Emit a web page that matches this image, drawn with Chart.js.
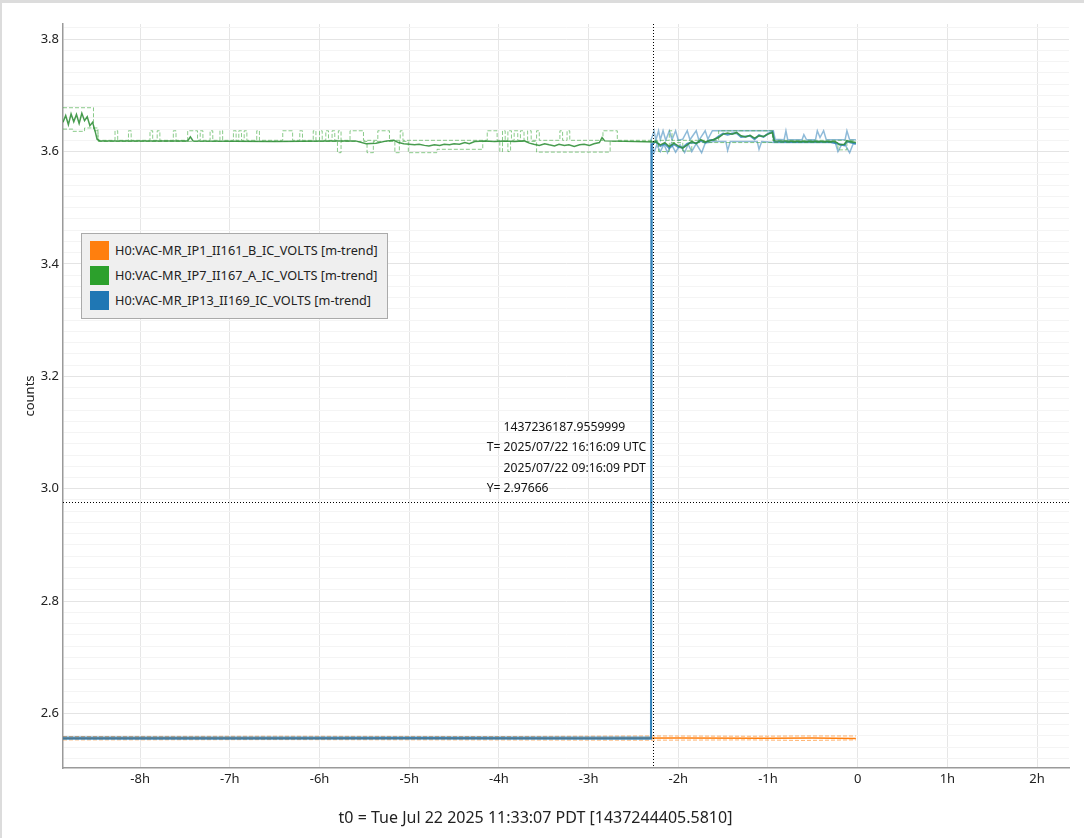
<!DOCTYPE html>
<html>
<head>
<meta charset="utf-8">
<script src="https://cdn.jsdelivr.net/npm/chart.js@4/dist/chart.umd.min.js"></script>
<style>
  html, body { margin: 0; padding: 0; background: #dcdcdc; width: 1084px; height: 838px; overflow: hidden; }
  #wrap { position: absolute; left: 2px; top: 3px; width: 1082px; height: 835px; background: #fff; }
  #legend { position: absolute; left: 79px; top: 230px; width: 305px; height: 84px; background: #efefef;
            border: 1px solid #aaa; font: 12.7px "Noto Sans", sans-serif; color: #222; }
  #legend .row { position: absolute; left: 8px; height: 19px; line-height: 19px; white-space: nowrap; }
  #legend .sw { display: inline-block; width: 19px; height: 19px; vertical-align: top; margin-right: 6px; }
</style>
</head>
<body>
<div id="wrap">
  <canvas id="chart" width="1082" height="835"></canvas>
  <div id="legend"></div>
</div>
<script>
// 時刻は t0 からの相対時間 [h]
const t0 = 1437244405.5810;
const titleText = 't0 = Tue Jul 22 2025 11:33:07 PDT [1437244405.5810]';
const xMin = -8.86, xMax = 2.356;
const yMin = 2.503, yMax = 3.827;
const xTicks = [-8, -7, -6, -5, -4, -3, -2, -1, 0, 1, 2];
const yTicks = [2.6, 2.8, 3.0, 3.2, 3.4, 3.6, 3.8];

const labels = [
  'H0:VAC-MR_IP1_II161_B_IC_VOLTS [m-trend]',
  'H0:VAC-MR_IP7_II167_A_IC_VOLTS [m-trend]',
  'H0:VAC-MR_IP13_II169_IC_VOLTS [m-trend]'
];
const colors = ['#ff7f0e', '#2ca02c', '#1f77b4'];

// カーソル位置
const cursorGps = 1437236187.9559999;
const cursorY = 2.97666;
const cursorLines = ['1437236187.9559999', '2025/07/22 16:16:09 UTC', '2025/07/22 09:16:09 PDT', '2.97666'];

// orange
const orangeMean = [[-8.86,2.556],[-7.5,2.5562],[-6.0,2.5558],[-4.5,2.5561],[-3.0,2.5559],[-2.0,2.5563],[-1.0,2.5558],[-0.5,2.5562],[-0.02,2.5557]];
const orangeMax = [[-8.86,2.559],[-6.5,2.5595],[-4.0,2.559],[-2.28,2.560],[-1.2,2.5595],[-0.6,2.560],[-0.02,2.560]];
const orangeMin = [[-8.86,2.553],[-6.5,2.5535],[-4.0,2.553],[-2.28,2.5525],[-1.2,2.553],[-0.6,2.552],[-0.02,2.553]];

// green
const greenMean = [
  [-8.86,3.652],[-8.83,3.664],[-8.80,3.648],[-8.77,3.667],[-8.74,3.653],[-8.71,3.666],[-8.68,3.650],
  [-8.65,3.668],[-8.62,3.655],[-8.59,3.662],[-8.56,3.646],[-8.53,3.652],[-8.50,3.635],[-8.48,3.622],
  [-8.45,3.619],[-7.47,3.619],[-7.44,3.626],[-7.41,3.619],[-6.5,3.618],[-5.9,3.619],[-5.60,3.619],
  [-5.48,3.614],[-5.37,3.615],[-5.25,3.619],[-5.17,3.620],[-5.12,3.616],[-5.06,3.614],[-5.00,3.613],
  [-4.94,3.612],[-4.89,3.613],[-4.83,3.611],[-4.78,3.610],[-4.72,3.612],[-4.66,3.611],[-4.61,3.613],
  [-4.55,3.612],[-4.50,3.614],[-4.44,3.613],[-4.38,3.616],[-4.33,3.614],[-4.27,3.618],[-4.16,3.619],
  [-4.05,3.618],[-3.94,3.619],[-3.83,3.618],[-3.72,3.619],[-3.66,3.615],[-3.61,3.613],[-3.55,3.611],
  [-3.49,3.614],[-3.44,3.612],[-3.38,3.610],[-3.33,3.613],[-3.27,3.611],[-3.22,3.612],[-3.16,3.609],
  [-3.10,3.612],[-3.05,3.613],[-2.99,3.611],[-2.94,3.614],[-2.88,3.616],[-2.85,3.625],[-2.82,3.619],
  [-2.25,3.617],[-2.20,3.612],[-2.15,3.616],[-2.10,3.609],[-2.05,3.615],[-2.00,3.610],[-1.95,3.606],
  [-1.90,3.612],[-1.85,3.618],[-1.80,3.614],[-1.75,3.621],[-1.70,3.617],[-1.65,3.619],[-1.60,3.622],
  [-1.55,3.625],[-1.50,3.631],[-1.45,3.633],[-1.40,3.631],[-1.35,3.634],[-1.30,3.628],[-1.25,3.626],
  [-1.20,3.629],[-1.15,3.624],[-1.10,3.628],[-1.05,3.627],[-1.00,3.631],[-0.95,3.634],[-0.93,3.619],
  [-0.60,3.618],[-0.25,3.618],[-0.20,3.612],[-0.15,3.613],[-0.12,3.619],[-0.02,3.616]
];
const greenMax = [
  [-8.86,3.678],[-8.52,3.637],[-8.47,3.620],
  [-8.28,3.637],[-8.25,3.620],[-8.13,3.637],[-8.10,3.620],[-7.89,3.637],[-7.86,3.620],[-7.81,3.637],[-7.78,3.620],
  [-7.63,3.637],[-7.60,3.620],[-7.47,3.637],[-7.36,3.620],[-7.33,3.637],[-7.30,3.620],[-7.22,3.637],[-7.19,3.620],
  [-7.11,3.637],[-7.08,3.620],[-6.96,3.637],[-6.93,3.620],[-6.90,3.637],[-6.87,3.620],[-6.84,3.637],[-6.81,3.620],
  [-6.70,3.637],[-6.67,3.620],[-6.41,3.637],[-6.30,3.620],[-6.22,3.637],[-6.19,3.620],[-6.07,3.637],[-6.04,3.620],
  [-6.00,3.637],[-5.97,3.620],[-5.93,3.637],[-5.90,3.620],[-5.86,3.637],[-5.83,3.620],[-5.79,3.637],[-5.76,3.620],
  [-5.66,3.637],[-5.51,3.620],[-5.35,3.637],[-5.22,3.620],[-5.10,3.637],[-5.07,3.620],
  [-4.13,3.637],[-4.02,3.620],[-3.96,3.637],[-3.93,3.620],[-3.90,3.637],[-3.86,3.620],[-3.83,3.637],[-3.79,3.620],
  [-3.76,3.637],[-3.72,3.620],[-3.68,3.637],[-3.64,3.620],[-3.58,3.637],[-3.55,3.620],
  [-3.32,3.637],[-3.29,3.620],[-3.24,3.637],[-3.21,3.620],[-2.84,3.637],[-2.68,3.620],
  [-2.10,3.637],[-2.07,3.620],[-1.55,3.637],[-0.95,3.620],[-0.02,3.620]
];
const greenMin = [
  [-8.86,3.640],[-8.75,3.636],[-8.62,3.642],[-8.47,3.618],
  [-5.80,3.598],[-5.76,3.618],[-5.47,3.598],[-5.40,3.618],[-5.16,3.598],[-5.11,3.618],
  [-5.01,3.598],[-4.69,3.604],[-4.18,3.618],[-3.99,3.600],[-3.96,3.618],[-3.90,3.600],[-3.87,3.618],
  [-3.58,3.599],[-2.76,3.618],
  [-2.22,3.600],[-2.10,3.616],[-1.95,3.601],[-1.85,3.616],[-0.22,3.603],[-0.12,3.616],[-0.02,3.616]
];

// blue
const blueMean = [
  [-8.86,2.556],[-7.0,2.5558],[-5.0,2.5562],[-3.0,2.5559],[-2.305,2.556],[-2.297,3.612],
  [-2.25,3.618],[-2.20,3.610],[-2.15,3.614],[-2.10,3.606],[-2.05,3.613],[-2.00,3.608],[-1.95,3.607],
  [-1.90,3.614],[-1.85,3.616],[-1.80,3.615],[-1.75,3.619],[-1.70,3.616],[-1.65,3.620],[-1.60,3.621],
  [-1.55,3.627],[-1.50,3.632],[-1.45,3.630],[-1.40,3.632],[-1.35,3.633],[-1.30,3.626],[-1.25,3.627],
  [-1.20,3.628],[-1.15,3.622],[-1.10,3.629],[-1.05,3.626],[-1.00,3.632],[-0.95,3.635],[-0.93,3.618],
  [-0.70,3.617],[-0.50,3.618],[-0.30,3.617],[-0.20,3.613],[-0.15,3.611],[-0.12,3.618],[-0.02,3.614]
];
const blueMax = [
  [-8.86,2.558],[-2.312,2.558],[-2.305,3.620],[-2.27,3.637],[-2.25,3.620],[-2.22,3.637],[-2.20,3.621],[-2.17,3.637],
  [-2.14,3.620],[-2.10,3.637],[-2.07,3.621],[-2.03,3.637],[-2.00,3.620],[-1.95,3.622],[-1.90,3.637],[-1.87,3.621],
  [-1.80,3.637],[-1.77,3.620],[-1.70,3.637],[-1.67,3.622],[-1.62,3.637],[-0.94,3.637],[-0.92,3.622],[-0.82,3.621],
  [-0.80,3.637],[-0.78,3.621],[-0.62,3.621],[-0.60,3.630],[-0.57,3.621],[-0.47,3.621],[-0.45,3.637],[-0.42,3.625],
  [-0.38,3.637],[-0.35,3.621],[-0.14,3.621],[-0.12,3.637],[-0.09,3.621],[-0.02,3.621]
];
const blueMin = [
  [-8.86,2.554],[-2.300,2.554],[-2.292,3.612],[-2.27,3.598],[-2.24,3.612],[-2.20,3.600],[-2.16,3.613],[-2.12,3.598],
  [-2.08,3.614],[-2.03,3.599],[-1.98,3.612],[-1.93,3.598],[-1.89,3.613],[-1.85,3.600],[-1.80,3.614],
  [-1.74,3.598],[-1.70,3.615],[-1.60,3.618],[-1.47,3.618],[-1.45,3.602],[-1.42,3.618],[-1.12,3.618],[-1.10,3.604],
  [-1.07,3.618],[-0.93,3.616],[-0.25,3.616],[-0.22,3.600],[-0.18,3.612],[-0.14,3.612],[-0.09,3.598],[-0.05,3.614],[-0.02,3.614]
];

const pts = a => a.map(p => ({ x: p[0], y: p[1] }));
const alpha = (hex, a) => {
  const n = parseInt(hex.slice(1), 16);
  return `rgba(${n >> 16},${(n >> 8) & 255},${n & 255},${a})`;
};

// 凡例
document.getElementById('legend').innerHTML = labels.map((l, i) =>
  `<div class="row" style="top:${7 + i * 25}px"><span class="sw" style="background:${colors[i]}"></span>${l}</div>`
).join('');

const line = (data, color, width, dash, stepped) => ({
  data: pts(data), borderColor: color, borderWidth: width, borderDash: dash || [],
  pointRadius: 0, fill: false, tension: 0, stepped: stepped || false
});

const cursorPlugin = {
  id: 'cursor',
  afterDatasetsDraw(chart) {
    const { ctx, chartArea: a, scales: { x, y } } = chart;
    const cx = Math.round(x.getPixelForValue((cursorGps - t0) / 3600)) + 0.5;
    const cy = Math.round(y.getPixelForValue(cursorY)) + 0.5;
    ctx.save();
    ctx.strokeStyle = '#000';
    ctx.lineWidth = 1;
    ctx.setLineDash([1, 2]);
    ctx.beginPath();
    ctx.moveTo(cx, a.top); ctx.lineTo(cx, a.bottom);
    ctx.moveTo(a.left, cy); ctx.lineTo(a.right, cy);
    ctx.stroke();
    ctx.setLineDash([]);
    ctx.font = '12.2px "Noto Sans", sans-serif';
    ctx.fillStyle = '#111';
    ctx.textBaseline = 'middle';
    const offs = [-75, -55, -34, -14];
    cursorLines.forEach((s, i) => {
      ctx.textAlign = 'left';
      ctx.fillText(s, cx - 150, cy + offs[i]);
    });
    ctx.textAlign = 'right';
    ctx.fillText('T=', cx - 153, cy + offs[1]);
    ctx.fillText('Y=', cx - 153, cy + offs[3]);
    ctx.restore();
  }
};

new Chart(document.getElementById('chart'), {
  type: 'line',
  data: {
    datasets: [
      line(greenMean, 'rgba(52,145,60,0.9)', 1.5),
      line(greenMax, alpha(colors[1], 0.55), 1, [4, 2], 'before'),
      line(greenMin, alpha(colors[1], 0.55), 1, [4, 2], 'before'),
      line(blueMean, alpha(colors[2], 0.75), 2),
      line(blueMax, alpha(colors[2], 0.5), 1.5),
      line(blueMin, alpha(colors[2], 0.5), 1.5),
      line(orangeMean, colors[0], 1.5),
      line(orangeMax, alpha(colors[0], 0.6), 1, [4, 2]),
      line(orangeMin, alpha(colors[0], 0.6), 1, [4, 2])
    ]
  },
  options: {
    responsive: false,
    animation: false,
    layout: { padding: { top: 21, right: 15, left: 0, bottom: 0 } },
    plugins: {
      legend: { display: false },
      tooltip: { enabled: false },
      title: { display: true, position: 'bottom', text: titleText, color: '#222',
               font: { family: 'Noto Sans', size: 16, weight: 'normal' }, padding: { top: 0, bottom: 10 } }
    },
    scales: {
      x: {
        type: 'linear', min: xMin, max: xMax,
        afterBuildTicks: s => { s.ticks = xTicks.map(v => ({ value: v })); },
        afterFit: s => { s.height = 40.8; },
        ticks: { padding: 3, color: '#222', font: { family: 'Noto Sans', size: 13 },
                 callback: v => v === 0 ? '0' : v + 'h' },
        grid: { color: '#e6e6e6', drawTicks: false },
        border: { color: '#9a9a9a', width: 1.5 }
      },
      y: {
        type: 'linear', min: yMin, max: yMax,
        afterBuildTicks: s => {
          const t = [];
          for (let v = 2.52; v < yMax; v += 0.02) t.push({ value: Math.round(v * 100) / 100 });
          s.ticks = t;
        },
        afterFit: s => { s.width = 61; },
        ticks: { padding: 4, color: '#222', font: { family: 'Noto Sans', size: 13 },
                 autoSkip: false,
                 callback: v => yTicks.some(m => Math.abs(m - v) < 1e-6) ? v.toFixed(1) : '' },
        grid: {
          drawTicks: false,
          color: c => yTicks.some(m => Math.abs(m - c.tick.value) < 1e-6) ? '#e4e4e4' : '#f4f4f4'
        },
        border: { color: '#9a9a9a', width: 1.5 },
        title: { display: true, text: 'counts', color: '#222',
                 font: { family: 'Noto Sans', size: 13 }, padding: { top: 20, bottom: 0 } }
      }
    }
  },
  plugins: [cursorPlugin]
});
</script>
</body>
</html>
